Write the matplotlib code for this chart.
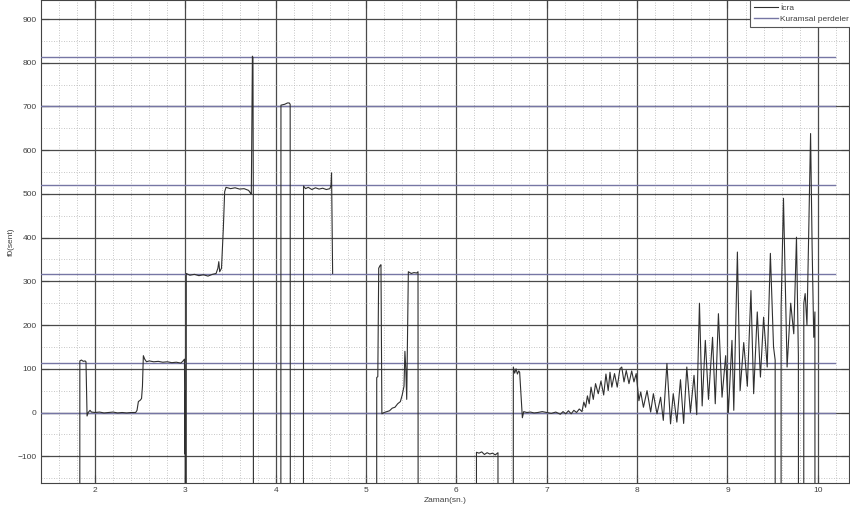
import numpy as np
import matplotlib
matplotlib.use("Agg")
import matplotlib.pyplot as plt
from matplotlib.ticker import MultipleLocator

plt.rcParams['font.family'] = ['Liberation Sans', 'DejaVu Sans']

# theoretical fret positions (cents)
perdeler = [0, 114, 316, 520, 702, 814]

# measured f0 track; -2000 marks unvoiced frames (falls off the bottom)
zaman = [
    # note 1 / 2
    1.830, 1.832, 1.850, 1.870, 1.890, 1.900, 1.912, 1.925, 1.945, 1.960,
    2.000, 2.050, 2.100, 2.150, 2.200, 2.250, 2.300, 2.350, 2.400, 2.450,
    2.465, 2.480, 2.500, 2.515, 2.525, 2.535, 2.550, 2.570, 2.600, 2.650,
    2.700, 2.750, 2.800, 2.850, 2.900, 2.950, 2.975, 2.990, 2.996, 2.998,
    3.001, 3.004,
    # note 3 / 4 / spike
    3.008, 3.010, 3.050, 3.100, 3.150, 3.200, 3.250, 3.300, 3.340, 3.360,
    3.370, 3.380, 3.400, 3.420, 3.435, 3.450, 3.500, 3.550, 3.600, 3.650,
    3.700, 3.720, 3.730, 3.736, 3.742, 3.748, 3.752, 3.756,
    # note 5
    4.055, 4.058, 4.080, 4.100, 4.130, 4.150, 4.160, 4.165,
    # note 6
    4.305, 4.308, 4.330, 4.360, 4.400, 4.440, 4.480, 4.520, 4.560, 4.600,
    4.612, 4.618, 4.625, 4.630, 4.640,
    # note 7
    5.115, 5.118, 5.130, 5.140, 5.155, 5.165, 5.175, 5.200, 5.230, 5.260,
    5.290, 5.320, 5.350, 5.380, 5.400, 5.420, 5.430, 5.440, 5.450, 5.460,
    5.468, 5.500, 5.530, 5.560, 5.575, 5.580,
    # low note
    6.220, 6.222, 6.250, 6.280, 6.310, 6.340, 6.370, 6.400, 6.430, 6.460,
    6.465,
    # final phrase
    6.628, 6.630, 6.645, 6.660, 6.675, 6.690, 6.700, 6.715, 6.730, 6.745,
    6.780, 6.820, 6.860, 6.900, 6.950, 7.000, 7.050, 7.100, 7.150, 7.180,
    7.210, 7.240, 7.270, 7.300, 7.330, 7.360, 7.390, 7.410, 7.430, 7.450,
    7.470, 7.490, 7.515, 7.540, 7.570, 7.600, 7.630, 7.655, 7.680, 7.700,
    7.720, 7.750, 7.780, 7.810, 7.830, 7.855, 7.880, 7.910, 7.940, 7.965,
    7.990, 8.020, 8.040, 8.070, 8.110, 8.150, 8.180, 8.220, 8.260, 8.290,
    8.330, 8.370, 8.400, 8.440, 8.480, 8.515, 8.550, 8.590, 8.630, 8.660,
    8.690, 8.720, 8.755, 8.790, 8.835, 8.865, 8.900, 8.940, 8.980, 9.010,
    9.050, 9.070, 9.110, 9.140, 9.180, 9.220, 9.260, 9.290, 9.330, 9.365,
    9.400, 9.440, 9.475, 9.510, 9.528, 9.530, 9.592, 9.594, 9.620, 9.660,
    9.700, 9.734, 9.764, 9.785, 9.790, 9.843, 9.845, 9.860, 9.880, 9.920,
    9.925, 9.937, 9.955, 9.968, 9.970,
]
f0 = [
    -2000, 118, 120, 117, 118, 116, -8, 0, 5, 1,
    0, 1, -1, 0, 1, -1, 0, -1, 0, 0,
    5, 25, 28, 32, 60, 130, 122, 116, 118, 116,
    117, 115, 116, 114, 115, 113, 118, 122, -95, 50,
    -2000, -2000,
    -2000, 318, 314, 316, 313, 315, 312, 316, 318, 330,
    345, 322, 330, 420, 505, 515, 512, 514, 511, 512,
    508, 502, 500, 650, 815, 812, 500, -2000,
    -2000, 703, 704, 705, 708, 708, 705, -2000,
    -2000, 518, 512, 515, 510, 514, 511, 513, 510, 512,
    520, 548, 400, 318, np.nan,
    -2000, 80, 82, 330, 336, 338, -3, 0, 2, 4,
    10, 12, 20, 25, 40, 60, 140, 100, 30, 200,
    322, 318, 320, 319, 322, -2000,
    -2000, -91, -93, -90, -96, -92, -95, -93, -97, -92,
    -2000,
    -2000, 104, 90, 100, 88, 95, 92, 40, -12, 2,
    0, 1, -1, 0, 2, 0, -2, 1, -4, 2,
    -3, 4, -3, 5, 0, 8, 2, 24, 12, 38,
    20, 58, 30, 66, 43, 72, 40, 88, 50, 92,
    58, 89, 58, 100, 104, 70, 96, 66, 95, 70,
    89, 27, 47, 12, 50, 1, 43, -3, 35, -18,
    112, -26, 43, -22, 75, -25, 104, 0, 85, -5,
    250, 15, 165, 30, 172, 20, 226, 35, 130, 0,
    165, 5, 367, 50, 160, 60, 279, 43, 230, 81,
    218, 104, 364, 150, 120, -2000, -2000, 240, 490, 104,
    250, 180, 401, 130, -2000, -2000, 250, 272, 200, 638,
    562, 380, 172, 230, -2000,
]

x_ticks = [2, 3, 4, 5, 6, 7, 8, 9, 10]
y_ticks = [-100, 0, 100, 200, 300, 400, 500, 600, 700, 800, 900]

fig = plt.figure(figsize=(8.5, 5.12), dpi=100)
ax = fig.add_axes([0.0479, 0.056, 0.951, 0.944])

ax.plot(zaman, f0, color='#303030', lw=0.8, label='İcra', zorder=4)
for i, p in enumerate(perdeler):
    ax.plot([1.399, 10.19], [p, p], color='#7676a4', lw=1.0, zorder=3,
            label='Kuramsal perdeler' if i == 0 else None)

ax.set_xlim(1.399, 10.346)
ax.set_ylim(-162, 943.5)
ax.set_xticks(x_ticks)
ax.set_yticks(y_ticks)
ax.xaxis.set_minor_locator(MultipleLocator(0.2))
ax.yaxis.set_minor_locator(MultipleLocator(50))

ax.grid(which='major', color='#4a4a4a', linestyle='-', linewidth=0.9, zorder=1)
ax.grid(which='minor', color='#b4b4b4', linestyle=(0, (1, 2)), linewidth=0.6, zorder=1)
ax.set_axisbelow(True)

ax.tick_params(which='major', direction='in', length=6, width=0.8, color='#444444',
               top=True, right=True, labelsize=6, labelcolor='#404040', pad=3)
ax.tick_params(which='minor', length=0)
for s in ax.spines.values():
    s.set_color('#444444')
    s.set_linewidth(0.8)

ax.set_xlabel('Zaman(sn.)', fontsize=6, color='#404040', labelpad=2)
ax.set_ylabel('f0(sent)', fontsize=6, color='#404040', labelpad=2)

leg = ax.legend(loc='upper left', bbox_to_anchor=(0.8775, 1.0), borderaxespad=0,
                fontsize=6, fancybox=False, framealpha=1, edgecolor='#555555',
                handlelength=2.8, handletextpad=0.3, borderpad=0.5, labelspacing=0.4)
leg.get_frame().set_linewidth(0.8)
for t in leg.get_texts():
    t.set_color('#404040')

fig.savefig('out.png', dpi=100)
